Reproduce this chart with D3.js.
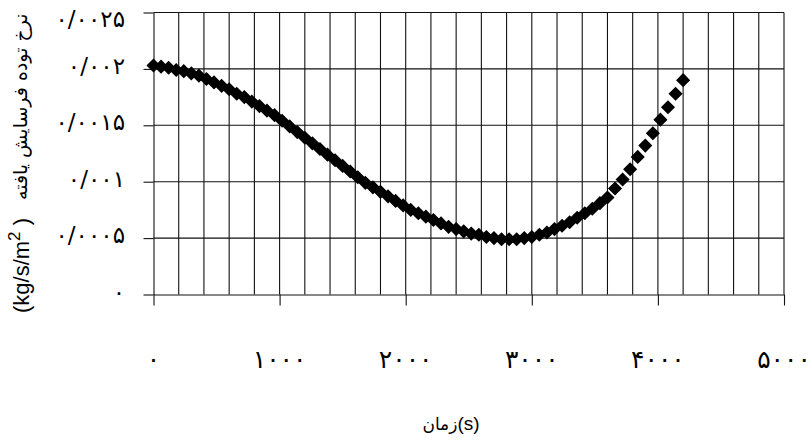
<!DOCTYPE html>
<html>
<head>
<meta charset="utf-8">
<script src="https://cdn.jsdelivr.net/npm/d3@7"></script>
<style>
  body { margin: 0; background: #fff; }
  svg { display: block; }
  text { font-family: "DejaVu Sans", sans-serif; fill: #000; }
</style>
</head>
<body>
<svg id="chart" width="812" height="444"></svg>
<script>
// time (s)
var times = [0, 60, 120, 180, 240, 300, 360, 420, 480, 540,
	600, 660, 720, 780, 840, 900, 960, 1020, 1080, 1140,
	1200, 1260, 1320, 1380, 1440, 1500, 1560, 1620, 1680, 1740,
	1800, 1860, 1920, 1980, 2040, 2100, 2160, 2220, 2280, 2340,
	2400, 2460, 2520, 2580, 2640, 2700, 2760, 2820, 2880, 2940,
	3000, 3060, 3120, 3180, 3240, 3300, 3360, 3420, 3480, 3540,
	3600, 3660, 3720, 3780, 3840, 3900, 3960, 4020, 4080, 4140,
	4200];
// ablated mass rate (kg/s/m2)
var rates = [0.00203, 0.00202, 0.00201, 0.00199, 0.00198, 0.00196, 0.00194, 0.00191, 0.00188, 0.00185,
	0.00182, 0.00178, 0.00175, 0.00171, 0.00167, 0.00163, 0.00159, 0.00154, 0.00149, 0.00144,
	0.00139, 0.00134, 0.00129, 0.00124, 0.00119, 0.00114, 0.00109, 0.00104, 0.00099, 0.00095,
	0.00091, 0.00087, 0.00083, 0.00079, 0.00075, 0.00072, 0.00069, 0.00066, 0.00063, 0.00060,
	0.00058, 0.00056, 0.00054, 0.00053, 0.00051, 0.00050, 0.00049, 0.00049, 0.00049, 0.00050,
	0.00051, 0.00053, 0.00055, 0.00058, 0.00061, 0.00064, 0.00068, 0.00072, 0.00076, 0.00081,
	0.00086, 0.00094, 0.00102, 0.00111, 0.00122, 0.00132, 0.00143, 0.00155, 0.00166, 0.00178,
	0.00190];

var xTicks = [0, 1000, 2000, 3000, 4000, 5000];
var xTickLabels = ["۰", "۱۰۰۰", "۲۰۰۰", "۳۰۰۰", "۴۰۰۰", "۵۰۰۰"];
var xGrid = [200, 400, 600, 800, 1000, 1200, 1400, 1600, 1800, 2000, 2200, 2400, 2600, 2800, 3000,
	3200, 3400, 3600, 3800, 4000, 4200, 4400, 4600, 4800, 5000];
var yTicks = [0, 0.0005, 0.001, 0.0015, 0.002, 0.0025];
var yTickLabels = ["۰", "۰/۰۰۰۵", "۰/۰۰۱", "۰/۰۰۱۵", "۰/۰۰۲", "۰/۰۰۲۵"];
var xTitle = "زمان";
var xUnit = "(s)";
var yTitle = "نرخ توده فرسایش یافته";

(function(){
	var svg = d3.select("#chart");
	var pLeft = 153.5, pRight = 784, pTop = 12.5, pBottom = 294.5;

	var x = d3.scaleLinear().domain([0, 5000]).range([pLeft, pRight]);
	var y = d3.scaleLinear().domain([0, 0.0025]).range([pBottom, pTop]);

	var grid = svg.append("g").attr("stroke", "#111").attr("stroke-width", 1.1);

	// vertical grid
	grid.selectAll("line.v").data(xGrid).enter().append("line")
		.attr("x1", function(d){ return x(d); })
		.attr("x2", function(d){ return x(d); })
		.attr("y1", pTop).attr("y2", pBottom);

	// horizontal grid
	grid.selectAll("line.h").data(yTicks.slice(1)).enter().append("line")
		.attr("x1", pLeft).attr("x2", pRight)
		.attr("y1", function(d){ return y(d); })
		.attr("y2", function(d){ return y(d); });

	// axes
	var yAxis = d3.axisLeft(y).tickValues(yTicks).tickSize(10).tickSizeOuter(0)
		.tickFormat(function(){ return ""; });
	var gy = svg.append("g").attr("transform", "translate(" + pLeft + ",0)").call(yAxis);
	gy.select(".domain").attr("stroke", "#111").attr("stroke-width", 1.1);
	gy.selectAll(".tick line").attr("stroke", "#111").attr("stroke-width", 1.1);

	var xAxis = d3.axisBottom(x).tickValues(xTicks).tickSize(11).tickSizeOuter(0)
		.tickFormat(function(){ return ""; });
	var gx = svg.append("g").attr("transform", "translate(0," + pBottom + ")").call(xAxis);
	gx.select(".domain").attr("stroke", "#111").attr("stroke-width", 1.1);
	gx.selectAll(".tick line").attr("stroke", "#111").attr("stroke-width", 1.1);

	// tick labels
	svg.append("g").selectAll("text").data(yTicks).enter().append("text")
		.attr("x", 125)
		.attr("y", function(d){ return Math.max(y(d) - 3, 19); })
		.attr("dy", "0.35em")
		.attr("text-anchor", "end")
		.style("font-size", "23px")
		.text(function(d, i){ return yTickLabels[i]; });

	svg.append("g").selectAll("text").data(xTicks).enter().append("text")
		.attr("x", function(d){ return x(d); })
		.attr("y", 359)
		.attr("dy", "0.35em")
		.attr("text-anchor", "middle")
		.style("font-size", "25px")
		.text(function(d, i){ return xTickLabels[i]; });

	// titles
	var xt = svg.append("text")
		.attr("x", 451).attr("y", 424).attr("dy", "0.35em")
		.attr("text-anchor", "middle")
		.style("font-size", "17px");
	xt.append("tspan").text(xTitle);
	xt.append("tspan").style("font-family", "Liberation Sans, Arial, sans-serif")
		.style("font-size", "19px").text(xUnit);

	var unit = svg.append("text")
		.attr("transform", "translate(29,313) rotate(-90)")
		.attr("text-anchor", "start")
		.style("font-family", "Liberation Sans, Arial, sans-serif")
		.style("font-size", "22px");
	unit.append("tspan").text("(kg/s/m");
	unit.append("tspan").attr("dy", -9).style("font-size", "17px").text("2");
	unit.append("tspan").attr("dy", 9).text(" )");

	svg.append("text")
		.attr("transform", "translate(27,200) rotate(-90)")
		.attr("text-anchor", "start")
		.style("font-size", "19px")
		.text(yTitle);

	// markers
	var diamond = d3.symbol().type(d3.symbolSquare).size(72);
	svg.append("g").selectAll("path").data(times).enter().append("path")
		.attr("transform", function(d, i){
			return "translate(" + x(d) + "," + y(rates[i]) + ") rotate(45)";
		})
		.attr("d", diamond)
		.attr("fill", "#000")
		.attr("stroke", "#000")
		.attr("stroke-width", 1.5);
})();
</script>
</body>
</html>
